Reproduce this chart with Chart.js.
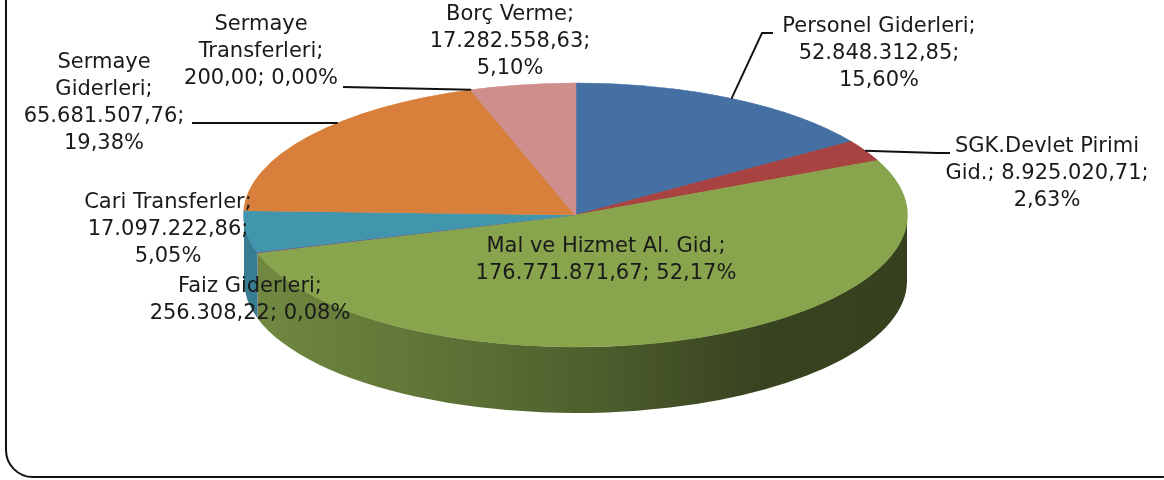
<!DOCTYPE html>
<html><head><meta charset="utf-8">
<script src="https://cdn.jsdelivr.net/npm/chart.js@4.4.1/dist/chart.umd.min.js"></script>
<style>
html,body{margin:0;padding:0;background:#fff;overflow:hidden}
#wrap{position:relative;width:1164px;height:480px;overflow:hidden;background:#fff}
#frame{position:absolute;left:5px;top:-40px;width:1179px;height:514px;border:2px solid #111;border-radius:28px}
canvas{position:absolute;left:0;top:0}
</style></head><body>
<div id="wrap"><div id="frame"></div><canvas id="c" width="1164" height="480"></canvas></div>
<script>
// ---- data ----
const categories = ["Personel Giderleri", "SGK.Devlet Pirimi Gid.", "Mal ve Hizmet Al. Gid.", "Faiz Giderleri", "Cari Transferler", "Sermaye Giderleri", "Sermaye Transferleri", "Borç Verme"];
const values = [52848312.85, 8925020.71, 176771871.67, 256308.22, 17097222.86, 65681507.76, 200.00, 17282558.63];
const colors = ["#4570a4", "#a84341", "#88a44d", "#71588f", "#4196ae", "#d8803b", "#93a9ce", "#cf8d8c"];

// ---- layout (not data) ----
const PIE_RX = 331.5;      // horizontal radius of the tilted pie
const PIE_RY = 132;        // vertical radius
const DEPTH = 66;          // thickness of the pie
const LINE_H = 27;
const labelPos = [[879,27],[1047,147],[606,247],[250,287],[168,203],[104,63],[261,25],[510,15]];
const wordsPerLine = [[2,1,1],[2,2,1],[5,2],[2,2],[2,1,1],[1,1,1,1],[1,1,2],[2,1,1]];
const leaderPts = [[[773,33],[762,33]], [[950,153],[937,153]], null, null, null, [[192,123]], [[343,87]], null];
const leaderLevel = [false, false, false, false, false, true, false, false];

function fmtTR(v){
  const s = v.toFixed(2).split('.');
  return s[0].replace(/\B(?=(\d{3})+(?!\d))/g, '.') + ',' + s[1];
}
const total = values.reduce((a,b)=>a+b,0);
function labelLines(i){
  const pct = (values[i]/total*100).toFixed(2).replace('.', ',') + '%';
  const words = (categories[i] + '; ' + fmtTR(values[i]) + '; ' + pct).split(' ');
  const out = []; let k = 0;
  wordsPerLine[i].forEach(n => { out.push(words.slice(k, k+n).join(' ')); k += n; });
  return out;
}
function shade(hex, f){
  const n = parseInt(hex.slice(1),16);
  const r = Math.round(((n>>16)&255)*f), g = Math.round(((n>>8)&255)*f), b = Math.round((n&255)*f);
  return `rgb(${r},${g},${b})`;
}

const pie3d = {
  id: 'pie3d',
  beforeDatasetDraw(chart, args){
    const ctx = chart.ctx;
    const arcs = args.meta.data;
    const p0 = arcs[0].getProps(['x','y','outerRadius'], true);
    const cx = p0.x, cy = p0.y, r = p0.outerRadius;
    const sx = PIE_RX / r;
    ctx.save();
    ctx.translate(cx, cy); ctx.scale(sx, 1); ctx.translate(-cx, -cy);
    arcs.forEach((arc, i) => {
      const p = arc.getProps(['startAngle','endAngle'], true);
      const a0 = Math.max(p.startAngle, 0), a1 = Math.min(p.endAngle, Math.PI);
      if (a1 <= a0) return;
      const g = ctx.createLinearGradient(cx - r, 0, cx + r, 0);
      g.addColorStop(0, shade(colors[i], 0.84));
      g.addColorStop(0.45, shade(colors[i], 0.62));
      g.addColorStop(0.78, shade(colors[i], 0.41));
      g.addColorStop(1, shade(colors[i], 0.39));
      ctx.beginPath();
      ctx.arc(cx, cy, r, a0, a1);
      ctx.lineTo(cx + r*Math.cos(a1), cy + DEPTH + r*Math.sin(a1));
      ctx.arc(cx, cy + DEPTH, r, a1, a0, true);
      ctx.closePath();
      ctx.fillStyle = g;
      ctx.fill();
    });
  },
  afterDatasetDraw(chart){
    chart.ctx.restore();
  },
  afterDraw(chart){
    const ctx = chart.ctx;
    const arcs = chart.getDatasetMeta(0).data;
    ctx.save();
    // leader lines
    ctx.strokeStyle = '#111';
    ctx.lineWidth = 1.9;
    arcs.forEach((arc, i) => {
      if (!leaderPts[i]) return;
      const p = arc.getProps(['x','y','startAngle','endAngle','outerRadius'], true);
      const pts = leaderPts[i];
      const last = pts[pts.length-1];
      let ang = (p.startAngle + p.endAngle)/2;
      if (leaderLevel[i]) {
        const s = (last[1] - p.y) / PIE_RY;
        if (Math.abs(s) < 1) {
          const left = Math.PI - Math.asin(s);
          const cand = [left, left + 2*Math.PI, Math.asin(s), Math.asin(s) + 2*Math.PI];
          const hit = cand.find(a => a >= p.startAngle && a <= p.endAngle);
          if (hit !== undefined) ang = hit;
        }
      }
      const ax = p.x + PIE_RX*Math.cos(ang), ay = p.y + PIE_RY*Math.sin(ang);
      ctx.beginPath();
      ctx.moveTo(pts[0][0], pts[0][1]);
      for (let k = 1; k < pts.length; k++) ctx.lineTo(pts[k][0], pts[k][1]);
      ctx.lineTo(ax, ay);
      ctx.stroke();
    });
    // labels
    ctx.fillStyle = '#1a1a1a';
    ctx.font = '21px "DejaVu Sans"';
    ctx.textAlign = 'center';
    ctx.textBaseline = 'middle';
    categories.forEach((c, i) => {
      labelLines(i).forEach((ln, j) => ctx.fillText(ln, labelPos[i][0], labelPos[i][1] + j*LINE_H));
    });
    ctx.restore();
  }
};

new Chart(document.getElementById('c'), {
  type: 'pie',
  data: {
    labels: categories,
    datasets: [{ data: values, backgroundColor: colors, borderColor: colors, borderWidth: 0.6 }]
  },
  options: {
    responsive: false,
    animation: false,
    events: [],
    radius: PIE_RY,
    clip: false,
    layout: { padding: { left: 0, right: 13, top: 0, bottom: 50 } },
    plugins: { legend: { display: false }, tooltip: { enabled: false } }
  },
  plugins: [pie3d]
});
</script>
</body></html>
